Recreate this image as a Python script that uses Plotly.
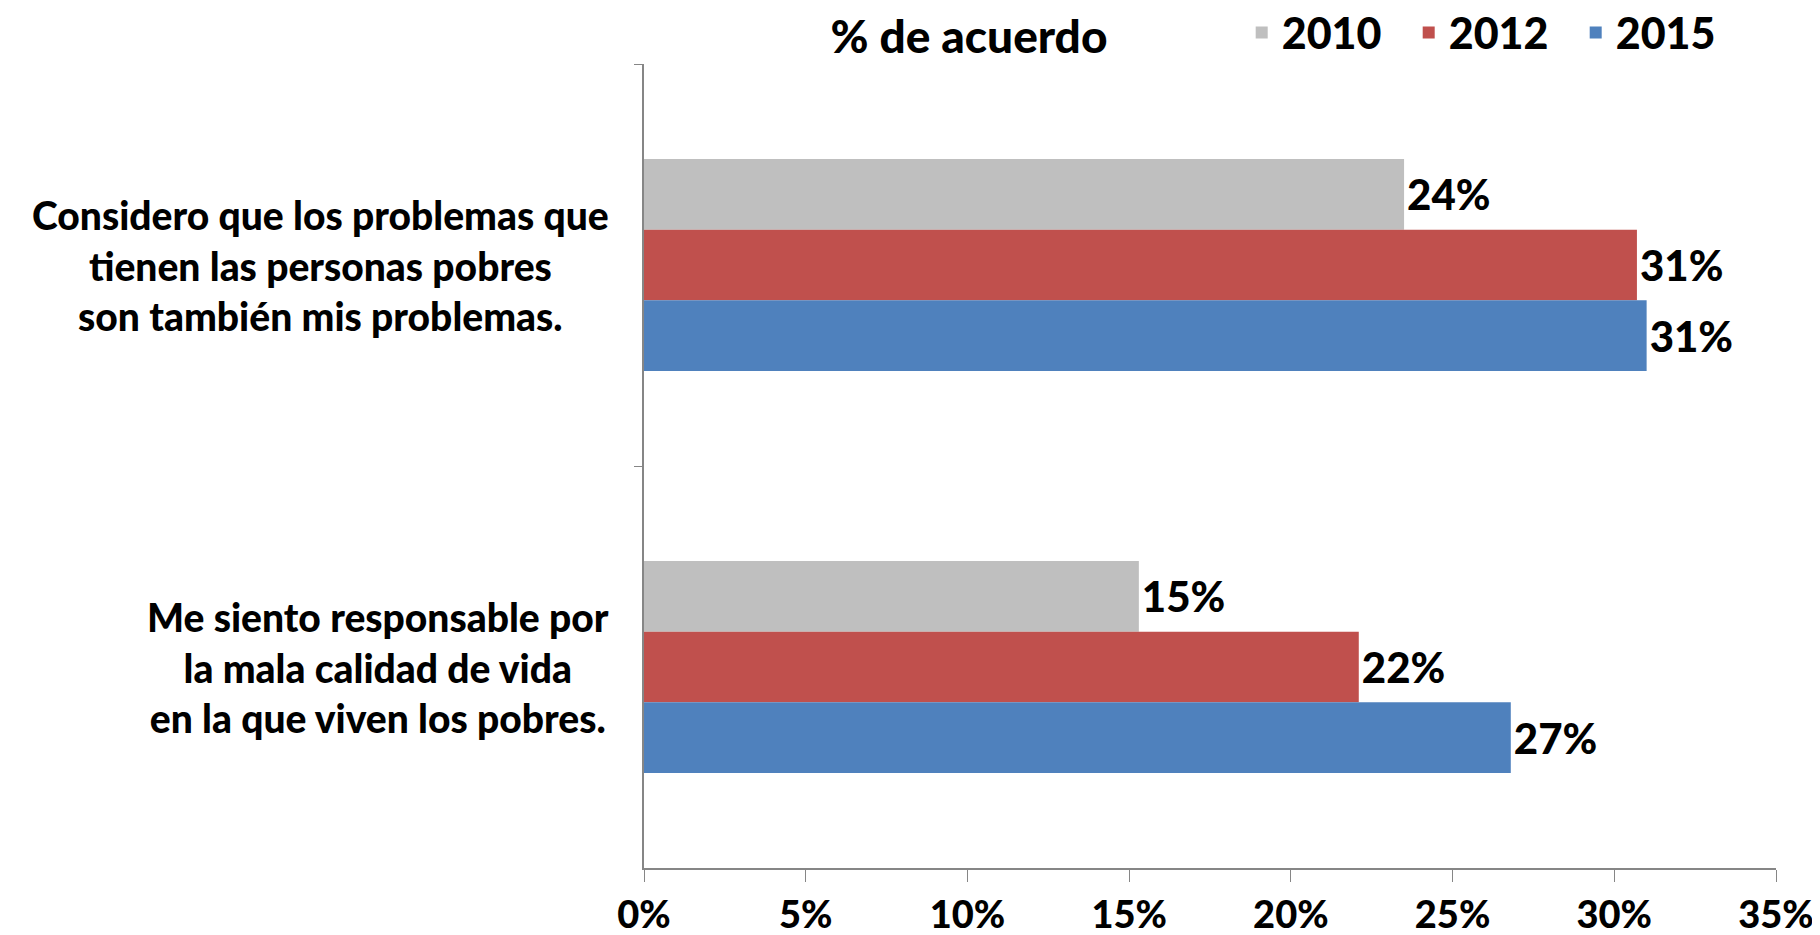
import plotly.graph_objects as go

categories = [
    "Considero que los problemas que<br>tienen las personas pobres<br>son también mis problemas.",
    "Me siento responsable por<br>la mala calidad de vida<br>en la que viven los pobres.",
]
cat_keys = ["c1", "c2"]
years = ["2010", "2012", "2015"]
values_2010 = [0.235, 0.153]
values_2012 = [0.307, 0.221]
values_2015 = [0.310, 0.268]
labels_2010 = ["24%", "15%"]
labels_2012 = ["31%", "22%"]
labels_2015 = ["31%", "27%"]
colors = ["#BFBFBF", "#C0504D", "#4F81BD"]
x_ticks = [0, 0.05, 0.10, 0.15, 0.20, 0.25, 0.30, 0.35]

FONT = "Lato"
W = 900
series = [values_2010, values_2012, values_2015]
labels = [labels_2010, labels_2012, labels_2015]

fig = go.Figure()
for yr, vals, lab, col in zip(years, series, labels, colors):
    fig.add_trace(go.Bar(
        y=cat_keys, x=vals, name=yr, orientation="h",
        marker=dict(color=col, line=dict(width=0)),
        text=lab, textposition="outside", cliponaxis=False,
        textfont=dict(family=FONT, size=42, color="black", weight=W),
    ))

for key, cat in zip(cat_keys, categories):
    fig.add_annotation(
        x=0, xref="paper", y=key, yref="y", text=cat, showarrow=False,
        xanchor="right", yanchor="middle", align="center", xshift=-33,
        font=dict(family=FONT, size=39, color="black", weight=W),
    )

fig.update_layout(
    width=1820, height=935,
    margin=dict(l=636, r=52, t=56, b=75, autoexpand=False),
    paper_bgcolor="white", plot_bgcolor="white",
    barmode="group", bargap=0.473, bargroupgap=0,
    title=dict(text="% de acuerdo", x=0.528, xanchor="center", y=0.969, yanchor="middle",
               font=dict(family=FONT, size=46, color="black", weight=W)),
    legend=dict(orientation="h", x=0.528, xanchor="left", y=1.039, yanchor="middle",
                font=dict(family=FONT, size=43, color="black", weight=W),
                entrywidth=122, entrywidthmode="pixels",
                traceorder="normal", bgcolor="rgba(0,0,0,0)"),
    xaxis=dict(range=[0, 0.35], tickvals=x_ticks, tickformat=".0%", showgrid=False,
               zeroline=False, showline=True, linecolor="#868686", linewidth=2,
               ticks="outside", ticklen=12, tickcolor="#868686", tickwidth=1,
               ticklabelstandoff=0, automargin=False,
               tickfont=dict(family=FONT, size=38, color="black", weight=W)),
    yaxis=dict(autorange="reversed", showticklabels=False, showgrid=False, zeroline=False,
               showline=True, linecolor="#868686", linewidth=1.5, automargin=False,
               ticks="outside", tickson="boundaries", ticklen=8, tickcolor="#868686"),
)

fig.write_html("out.html")
